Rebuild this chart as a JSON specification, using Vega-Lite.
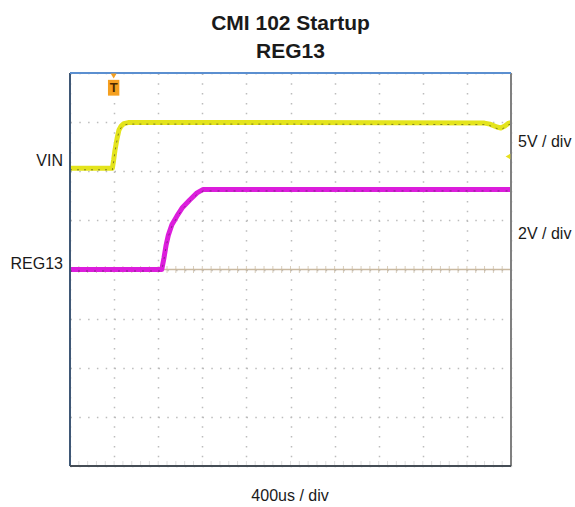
{
  "$schema": "https://vega.github.io/schema/vega-lite/v6.json",
  "width": 441,
  "height": 393,
  "autosize": "none",
  "padding": {"left": 70, "top": 73, "right": 64, "bottom": 41},
  "background": "white",
  "config": {"view": {"stroke": null}, "font": "Liberation Sans"},
  "title": {
    "text": ["CMI 102 Startup", "REG13"],
    "fontSize": 21,
    "fontWeight": "bold",
    "font": "Liberation Sans",
    "color": "#1a1a1a",
    "lineHeight": 28,
    "offset": 10,
    "anchor": "middle"
  },
  "datasets": {
    "one": [{}],
    "traces": [
      {"series": "VIN", "t": 0, "v": 2.06},
      {"series": "VIN", "t": 0.96, "v": 2.06},
      {"series": "VIN", "t": 0.99, "v": 2.23},
      {"series": "VIN", "t": 1.02, "v": 2.43},
      {"series": "VIN", "t": 1.07, "v": 2.68},
      {"series": "VIN", "t": 1.11, "v": 2.84},
      {"series": "VIN", "t": 1.16, "v": 2.92},
      {"series": "VIN", "t": 1.22, "v": 2.97},
      {"series": "VIN", "t": 1.32, "v": 2.99},
      {"series": "VIN", "t": 5.0, "v": 2.99},
      {"series": "VIN", "t": 9.4, "v": 2.98},
      {"series": "VIN", "t": 9.52, "v": 2.96},
      {"series": "VIN", "t": 9.68, "v": 2.90},
      {"series": "VIN", "t": 9.77, "v": 2.88},
      {"series": "VIN", "t": 9.86, "v": 2.92},
      {"series": "VIN", "t": 9.95, "v": 2.98},
      {"series": "VIN", "t": 10, "v": 2.99},
      {"series": "REG13", "t": 0, "v": 0},
      {"series": "REG13", "t": 2.08, "v": 0},
      {"series": "REG13", "t": 2.13, "v": 0.23},
      {"series": "REG13", "t": 2.18, "v": 0.5},
      {"series": "REG13", "t": 2.23, "v": 0.7},
      {"series": "REG13", "t": 2.31, "v": 0.91},
      {"series": "REG13", "t": 2.42, "v": 1.08},
      {"series": "REG13", "t": 2.54, "v": 1.25},
      {"series": "REG13", "t": 2.72, "v": 1.42},
      {"series": "REG13", "t": 2.88, "v": 1.56},
      {"series": "REG13", "t": 3.02, "v": 1.63},
      {"series": "REG13", "t": 10, "v": 1.63}
    ],
    "ticks": [
      {"t": 0.2}, {"t": 0.4}, {"t": 0.6}, {"t": 0.8}, {"t": 1.0},
      {"t": 1.2}, {"t": 1.4}, {"t": 1.6}, {"t": 1.8}, {"t": 2.0},
      {"t": 2.2}, {"t": 2.4}, {"t": 2.6}, {"t": 2.8}, {"t": 3.0},
      {"t": 3.2}, {"t": 3.4}, {"t": 3.6}, {"t": 3.8}, {"t": 4.0},
      {"t": 4.2}, {"t": 4.4}, {"t": 4.6}, {"t": 4.8}, {"t": 5.0},
      {"t": 5.2}, {"t": 5.4}, {"t": 5.6}, {"t": 5.8}, {"t": 6.0},
      {"t": 6.2}, {"t": 6.4}, {"t": 6.6}, {"t": 6.8}, {"t": 7.0},
      {"t": 7.2}, {"t": 7.4}, {"t": 7.6}, {"t": 7.8}, {"t": 8.0},
      {"t": 8.2}, {"t": 8.4}, {"t": 8.6}, {"t": 8.8}, {"t": 9.0},
      {"t": 9.2}, {"t": 9.4}, {"t": 9.6}, {"t": 9.8}
    ],
    "labels": [
      {"text": "VIN", "t": -0.16, "v": 2.2, "side": "left"},
      {"text": "REG13", "t": -0.16, "v": 0.12, "side": "left"},
      {"text": "5V / div", "t": 10.16, "v": 2.59, "side": "right"},
      {"text": "2V / div", "t": 10.16, "v": 0.72, "side": "right"},
      {"text": "400us / div", "t": 4.99, "v": -4.61, "side": "center"}
    ],
    "markers": [
      {"name": "trigger", "t": 0.99, "v": 3.70},
      {"name": "trigtop", "t": 0.99, "v": 3.94},
      {"name": "ch1", "t": 9.93, "v": 2.3}
    ]
  },
  "layer": [
    {
      "data": {"name": "ticks"},
      "mark": {"type": "tick", "orient": "vertical", "size": 5, "thickness": 1, "color": "#d2d2d2", "yOffset": -2.5},
      "encoding": {
        "x": {
          "field": "t", "type": "quantitative",
          "scale": {"domain": [0, 10], "nice": false, "zero": false},
          "axis": {
            "values": [0, 1, 2, 3, 4, 5, 6, 7, 8, 9, 10],
            "labels": false, "ticks": false, "domain": false, "title": null,
            "grid": true, "gridDash": [1.5, 8.3], "gridColor": "#bcbcbc", "gridWidth": 1.5
          }
        },
        "y": {
          "datum": -4, "type": "quantitative",
          "scale": {"domain": [-4, 4], "nice": false, "zero": false},
          "axis": {
            "values": [-4, -3, -2, -1, 0, 1, 2, 3, 4],
            "labels": false, "ticks": false, "domain": false, "title": null,
            "grid": true, "gridDash": [1.5, 7.3], "gridColor": "#bcbcbc", "gridWidth": 1.5
          }
        }
      }
    },
    {
      "data": {"name": "one"},
      "mark": {"type": "rule", "color": "#c9b9a0", "strokeWidth": 1.5},
      "encoding": {"y": {"datum": 0, "type": "quantitative"}}
    },
    {
      "data": {"name": "ticks"},
      "mark": {"type": "tick", "orient": "vertical", "size": 7, "thickness": 1, "color": "#c9b9a0"},
      "encoding": {
        "x": {"field": "t", "type": "quantitative"},
        "y": {"datum": 0, "type": "quantitative"}
      }
    },
    {
      "data": {"name": "traces"},
      "transform": [{"filter": "datum.series === 'VIN'"}],
      "mark": {"type": "line", "color": "#e4e41c", "strokeWidth": 5, "strokeJoin": "round"},
      "encoding": {
        "x": {"field": "t", "type": "quantitative"},
        "y": {"field": "v", "type": "quantitative"}
      }
    },
    {
      "data": {"name": "traces"},
      "transform": [{"filter": "datum.series === 'VIN'"}],
      "mark": {"type": "line", "color": "#222222", "strokeWidth": 1, "opacity": 0.55, "strokeDash": [2, 5], "yOffset": 1.5},
      "encoding": {
        "x": {"field": "t", "type": "quantitative"},
        "y": {"field": "v", "type": "quantitative"}
      }
    },
    {
      "data": {"name": "traces"},
      "transform": [{"filter": "datum.series === 'REG13'"}],
      "mark": {"type": "line", "color": "#dc1ddc", "strokeWidth": 5, "strokeJoin": "round"},
      "encoding": {
        "x": {"field": "t", "type": "quantitative"},
        "y": {"field": "v", "type": "quantitative"}
      }
    },
    {
      "data": {"name": "traces"},
      "transform": [{"filter": "datum.series === 'REG13'"}],
      "mark": {"type": "line", "color": "#222222", "strokeWidth": 1, "opacity": 0.45, "strokeDash": [2, 6], "yOffset": 1.5},
      "encoding": {
        "x": {"field": "t", "type": "quantitative"},
        "y": {"field": "v", "type": "quantitative"}
      }
    },
    {
      "data": {"name": "one"},
      "mark": {"type": "rule", "color": "#3f5876", "strokeWidth": 2},
      "encoding": {"x": {"datum": 0, "type": "quantitative"}}
    },
    {
      "data": {"name": "one"},
      "mark": {"type": "rule", "color": "#808080", "strokeWidth": 2},
      "encoding": {"x": {"datum": 10, "type": "quantitative"}}
    },
    {
      "data": {"name": "one"},
      "mark": {"type": "rule", "color": "#5b8fd0", "strokeWidth": 2},
      "encoding": {"y": {"datum": 4, "type": "quantitative"}}
    },
    {
      "data": {"name": "one"},
      "mark": {"type": "rule", "color": "#454d55", "strokeWidth": 2},
      "encoding": {"y": {"datum": -4, "type": "quantitative"}}
    },
    {
      "data": {"name": "markers"},
      "transform": [{"filter": "datum.name === 'trigger'"}],
      "mark": {"type": "point", "shape": "M-0.72,-1H0.72V1H-0.72Z", "size": 250, "filled": true, "color": "#f5a020", "opacity": 1},
      "encoding": {
        "x": {"field": "t", "type": "quantitative"},
        "y": {"field": "v", "type": "quantitative"}
      }
    },
    {
      "data": {"name": "markers"},
      "transform": [{"filter": "datum.name === 'trigtop'"}],
      "mark": {"type": "point", "shape": "triangle-down", "size": 35, "filled": true, "color": "#f5a020", "opacity": 1},
      "encoding": {
        "x": {"field": "t", "type": "quantitative"},
        "y": {"field": "v", "type": "quantitative"}
      }
    },
    {
      "data": {"name": "markers"},
      "transform": [{"filter": "datum.name === 'trigger'"}],
      "mark": {"type": "text", "text": "T", "fontSize": 13, "fontWeight": "bold", "color": "#4a2a00", "baseline": "middle", "align": "center"},
      "encoding": {
        "x": {"field": "t", "type": "quantitative"},
        "y": {"field": "v", "type": "quantitative"}
      }
    },
    {
      "data": {"name": "markers"},
      "transform": [{"filter": "datum.name === 'ch1'"}],
      "mark": {"type": "point", "shape": "triangle-left", "size": 30, "filled": true, "color": "#e8e020", "opacity": 1},
      "encoding": {
        "x": {"field": "t", "type": "quantitative"},
        "y": {"field": "v", "type": "quantitative"}
      }
    },
    {
      "data": {"name": "labels"},
      "transform": [{"filter": "datum.side === 'left'"}],
      "mark": {"type": "text", "align": "right", "baseline": "middle", "fontSize": 16, "color": "#1a1a1a"},
      "encoding": {
        "x": {"field": "t", "type": "quantitative"},
        "y": {"field": "v", "type": "quantitative"},
        "text": {"field": "text"}
      }
    },
    {
      "data": {"name": "labels"},
      "transform": [{"filter": "datum.side === 'right'"}],
      "mark": {"type": "text", "align": "left", "baseline": "middle", "fontSize": 16, "color": "#1a1a1a"},
      "encoding": {
        "x": {"field": "t", "type": "quantitative"},
        "y": {"field": "v", "type": "quantitative"},
        "text": {"field": "text"}
      }
    },
    {
      "data": {"name": "labels"},
      "transform": [{"filter": "datum.side === 'center'"}],
      "mark": {"type": "text", "align": "center", "baseline": "middle", "fontSize": 16, "color": "#1a1a1a"},
      "encoding": {
        "x": {"field": "t", "type": "quantitative"},
        "y": {"field": "v", "type": "quantitative"},
        "text": {"field": "text"}
      }
    }
  ]
}
